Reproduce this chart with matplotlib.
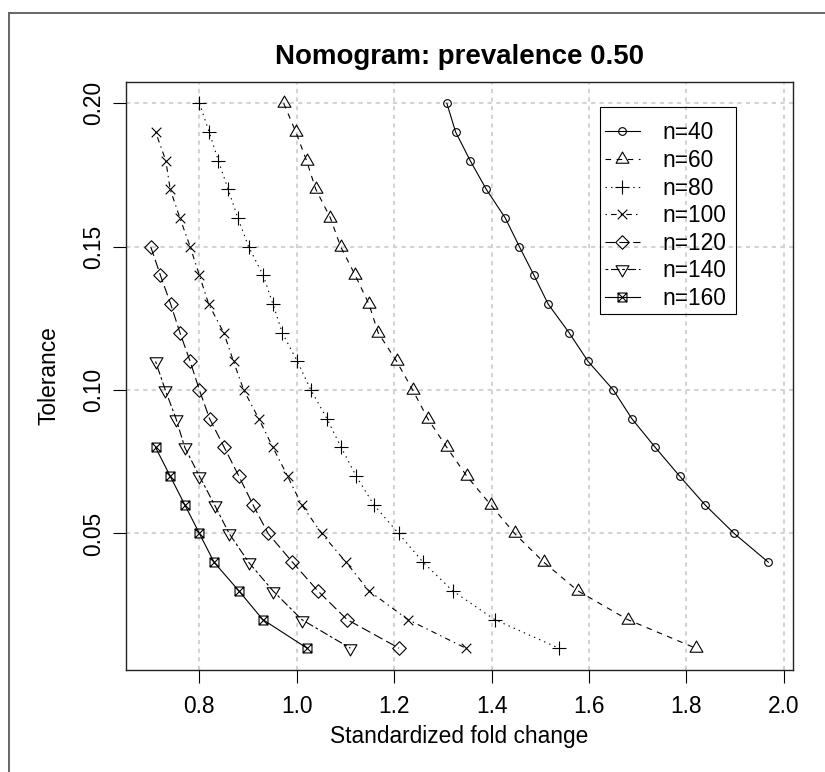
import matplotlib
matplotlib.use('Agg')
import matplotlib.pyplot as plt
from matplotlib.path import Path
from matplotlib.lines import Line2D
from matplotlib.patches import Rectangle

plt.rcParams['font.family'] = ['Liberation Sans', 'DejaVu Sans']
plt.rcParams['lines.scale_dashes'] = False

# ---------------- data ----------------
labels = ['n=40', 'n=60', 'n=80', 'n=100', 'n=120', 'n=140', 'n=160']

tol_40 = [0.20, 0.19, 0.18, 0.17, 0.16, 0.15, 0.14, 0.13, 0.12, 0.11, 0.10,
          0.09, 0.08, 0.07, 0.06, 0.05, 0.04]
fold_40 = [1.308, 1.326, 1.356, 1.389, 1.428, 1.457, 1.487, 1.516, 1.559, 1.598,
           1.650, 1.688, 1.736, 1.786, 1.838, 1.898, 1.968]

tol_60 = [0.20, 0.19, 0.18, 0.17, 0.16, 0.15, 0.14, 0.13, 0.12, 0.11, 0.10,
          0.09, 0.08, 0.07, 0.06, 0.05, 0.04, 0.03, 0.02, 0.01]
fold_60 = [0.973, 0.998, 1.020, 1.039, 1.069, 1.090, 1.120, 1.148, 1.167, 1.205,
           1.238, 1.269, 1.308, 1.349, 1.398, 1.447, 1.507, 1.577, 1.679, 1.819]

tol_80 = [0.20, 0.19, 0.18, 0.17, 0.16, 0.15, 0.14, 0.13, 0.12, 0.11, 0.10,
          0.09, 0.08, 0.07, 0.06, 0.05, 0.04, 0.03, 0.02, 0.01]
fold_80 = [0.800, 0.820, 0.839, 0.859, 0.879, 0.901, 0.931, 0.951, 0.970, 1.001,
           1.029, 1.062, 1.091, 1.122, 1.158, 1.209, 1.259, 1.320, 1.406, 1.538]

tol_100 = [0.19, 0.18, 0.17, 0.16, 0.15, 0.14, 0.13, 0.12, 0.11, 0.10,
           0.09, 0.08, 0.07, 0.06, 0.05, 0.04, 0.03, 0.02, 0.01]
fold_100 = [0.710, 0.731, 0.740, 0.760, 0.781, 0.800, 0.819, 0.850, 0.870, 0.891,
            0.922, 0.951, 0.981, 1.010, 1.051, 1.101, 1.148, 1.228, 1.347]

tol_120 = [0.15, 0.14, 0.13, 0.12, 0.11, 0.10, 0.09, 0.08, 0.07, 0.06,
           0.05, 0.04, 0.03, 0.02, 0.01]
fold_120 = [0.700, 0.720, 0.741, 0.760, 0.781, 0.800, 0.821, 0.851, 0.881, 0.910,
            0.941, 0.991, 1.043, 1.103, 1.210]

tol_140 = [0.11, 0.10, 0.09, 0.08, 0.07, 0.06, 0.05, 0.04, 0.03, 0.02, 0.01]
fold_140 = [0.710, 0.730, 0.752, 0.770, 0.800, 0.831, 0.861, 0.901, 0.951, 1.010,
            1.110]

tol_160 = [0.08, 0.07, 0.06, 0.05, 0.04, 0.03, 0.02, 0.01]
fold_160 = [0.710, 0.740, 0.770, 0.800, 0.830, 0.881, 0.930, 1.021]

x_ticks = [0.8, 1.0, 1.2, 1.4, 1.6, 1.8, 2.0]
x_tick_labels = ['0.8', '1.0', '1.2', '1.4', '1.6', '1.8', '2.0']
y_ticks = [0.05, 0.10, 0.15, 0.20]
y_tick_labels = ['0.05', '0.10', '0.15', '0.20']

title = 'Nomogram: prevalence 0.50'
xlab = 'Standardized fold change'
ylab = 'Tolerance'

folds = [fold_40, fold_60, fold_80, fold_100, fold_120, fold_140, fold_160]
tols = [tol_40, tol_60, tol_80, tol_100, tol_120, tol_140, tol_160]

# ---------------- R-like point symbols ----------------
M, L, C = Path.MOVETO, Path.LINETO, Path.CLOSEPOLY
TRC0, TRC1, TRC2 = 1.5551, 1.3468, 0.7776
S2, SQ = 1.41421, 0.88623


def closed(pts):
    return Path(pts + [pts[0]], [M] + [L] * (len(pts) - 1) + [C])


pch2 = closed([(0, TRC0), (TRC1, -TRC2), (-TRC1, -TRC2)])
pch3 = Path([(-S2, 0), (S2, 0), (0, -S2), (0, S2)], [M, L, M, L])
pch4 = Path([(-1, -1), (1, 1), (-1, 1), (1, -1)], [M, L, M, L])
pch5 = closed([(S2, 0), (0, S2), (-S2, 0), (0, -S2)])
pch6 = closed([(0, -TRC0), (TRC1, TRC2), (-TRC1, TRC2)])
pch7 = Path([(-SQ, -SQ), (SQ, -SQ), (SQ, SQ), (-SQ, SQ), (-SQ, -SQ),
             (-SQ, -SQ), (SQ, SQ), (-SQ, SQ), (SQ, -SQ)],
            [M, L, L, L, C, M, L, M, L])

R_pt = 3.45
markers = ['o', pch2, pch3, pch4, pch5, pch6, pch7]
msizes = [2 * R_pt * 0.8, 2 * TRC0 * R_pt, 2 * S2 * R_pt, 2 * R_pt,
          2 * S2 * R_pt, 2 * TRC0 * R_pt, 2 * SQ * R_pt * 1.05]
ltys = ['-', (0, (4, 4)), (0, (1, 3)), (0, (1, 3, 4, 3)), (0, (7, 3)),
        (0, (2, 2, 6, 2)), '-']

# ---------------- figure ----------------
W, H = 825, 772
fig = plt.figure(figsize=(W / 100, H / 100), dpi=100)
ax = fig.add_axes([126 / W, 1 - 670 / H, 667 / W, 588.5 / H])

lines = []
for xs, ys, mk, ms, ls in zip(folds, tols, markers, msizes, ltys):
    ln, = ax.plot(xs, ys, linestyle=ls, color='black', lw=0.8,
                  marker=mk, markersize=ms, markerfacecolor='none',
                  markeredgecolor='black', markeredgewidth=0.8, zorder=3)
    lines.append(ln)

# R-style 4% axis extension
allx = [v for f in folds for v in f]
ally = [v for t in tols for v in t]
xr = max(allx) - min(allx)
yr = max(ally) - min(ally)
ax.set_xlim(min(allx) - 0.04 * xr, max(allx) + 0.04 * xr)
ax.set_ylim(min(ally) - 0.04 * yr, max(ally) + 0.04 * yr)

ax.set_xticks(x_ticks)
ax.set_xticklabels(x_tick_labels)
ax.set_yticks(y_ticks)
ax.set_yticklabels(y_tick_labels)

ax.grid(True, color='#d3d3d3', lw=1.5, linestyle=(0, (3.0, 3.2)))
ax.set_axisbelow(True)

ax.tick_params(axis='both', direction='out', length=9.1, width=0.8,
               labelsize=16.4, color='black')
ax.tick_params(axis='x', pad=8.6)
ax.tick_params(axis='y', pad=6.0)
plt.setp(ax.get_yticklabels(), rotation=90, va='center', ha='right')

for sp in ax.spines.values():
    sp.set_linewidth(1.0)
    sp.set_color('#222222')

ax.set_xlabel(xlab, fontsize=16.4)
ax.xaxis.set_label_coords(0.5, (670 - 743.3) / 588.5)
ax.xaxis.label.set_va('baseline')
ax.set_ylabel(ylab, fontsize=16.4)
ax.yaxis.set_label_coords((55 - 126) / 667, 0.5)
ax.yaxis.label.set_rotation_mode('anchor')
ax.yaxis.label.set_va('baseline')
ax.yaxis.label.set_ha('center')

fig.text(459.5 / W, 1 - 64 / H, title, ha='center', va='baseline',
         fontsize=19.9, fontweight='bold')

leg = ax.legend(lines, labels, loc='upper left',
                bbox_to_anchor=(605 / W, 1 - 121.4 / H),
                bbox_transform=fig.transFigure, frameon=False,
                borderpad=0, borderaxespad=0, handlelength=1.535,
                handletextpad=1.0, labelspacing=0.2, fontsize=16.4,
                numpoints=1)
ax.add_artist(Rectangle((600 / W, 1 - 314.3 / H), 136 / W, 207.6 / H,
                        transform=fig.transFigure, fill=False,
                        edgecolor='black', lw=0.8, clip_on=False, zorder=5))

# outer frame (left & top edges visible)
fig.add_artist(Line2D([9 / W, 9 / W], [0, 1 - 12.7 / H], transform=fig.transFigure,
                      color='#666666', lw=1.4))
fig.add_artist(Line2D([9 / W, 1], [1 - 12.7 / H, 1 - 12.7 / H],
                      transform=fig.transFigure, color='#666666', lw=1.4))

fig.savefig('out.png', dpi=100)
